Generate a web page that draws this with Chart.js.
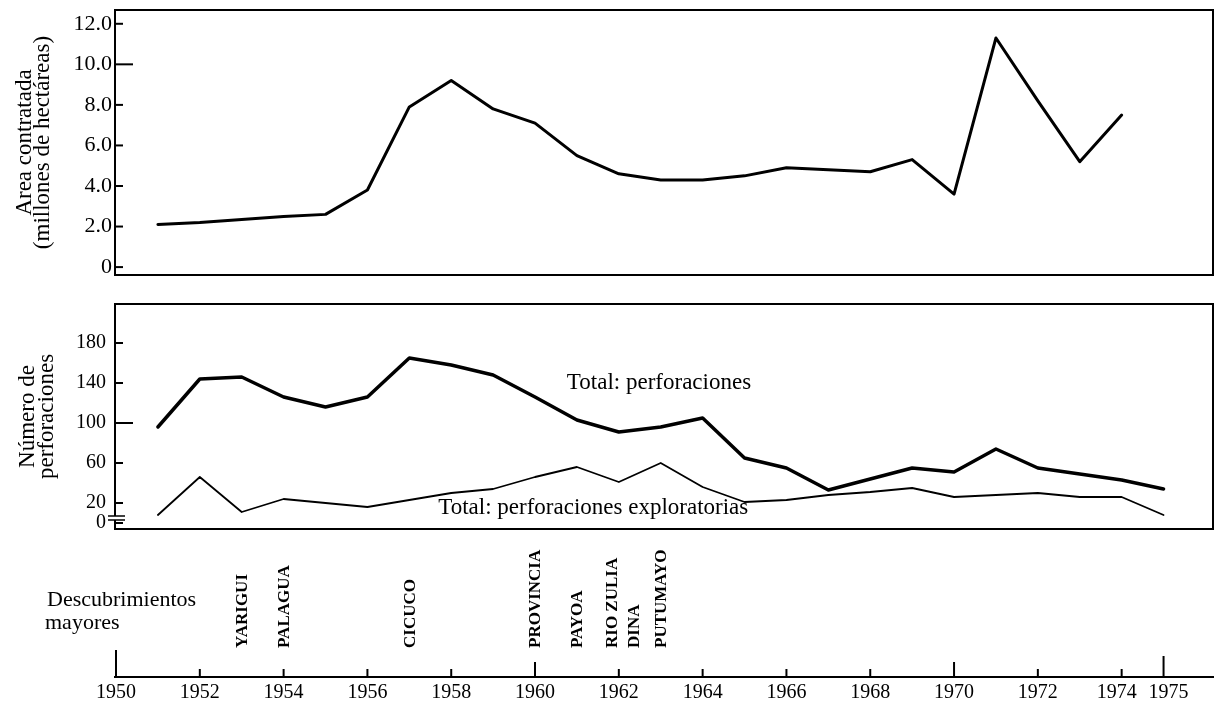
<!DOCTYPE html>
<html>
<head>
<meta charset="utf-8">
<script src="https://cdn.jsdelivr.net/npm/chart.js@4"></script>
<style>
	body { margin: 0; background: #fff; }
	canvas { position: absolute; left: 0; }
</style>
</head>
<body>
<canvas id="areaChart" width="1214" height="285" style="top:0"></canvas>
<canvas id="wellsChart" width="1214" height="245" style="top:290px"></canvas>
<canvas id="discoveryChart" width="1214" height="174" style="top:530px"></canvas>
<script>
const areaYears = [1951, 1952, 1953, 1954, 1955, 1956, 1957, 1958, 1959, 1960, 1961, 1962,
	1963, 1964, 1965, 1966, 1967, 1968, 1969, 1970, 1971, 1972, 1973, 1974]
const areaValues = [2.1, 2.2, 2.35, 2.5, 2.6, 3.8, 7.9, 9.2, 7.8, 7.1, 5.5, 4.6,
	4.3, 4.3, 4.5, 4.9, 4.8, 4.7, 5.3, 3.6, 11.3, 8.2, 5.2, 7.5]

const wellYears = [1951, 1952, 1953, 1954, 1955, 1956, 1957, 1958, 1959, 1960, 1961, 1962,
	1963, 1964, 1965, 1966, 1967, 1968, 1969, 1970, 1971, 1972, 1973, 1974, 1975]
const totalWells = [96, 144, 146, 126, 116, 126, 165, 158, 148, 126, 103, 91,
	96, 105, 65, 55, 33, 44, 55, 51, 74, 55, 49, 43, 34]
const exploratoryWells = [8, 46, 11, 24, 20, 16, 23, 30, 34, 46, 56, 41,
	60, 36, 21, 23, 28, 31, 35, 26, 28, 30, 26, 26, 8]

const areaTicks = [0, 2, 4, 6, 8, 10, 12]
const wellTicks = [0, 20, 60, 100, 140, 180]
const yearTicks = [1950, 1952, 1954, 1956, 1958, 1960, 1962, 1964, 1966, 1968, 1970, 1972, 1974, 1975]

const discoveryNames = ['YARIGUI', 'PALAGUA', 'CICUCO', 'PROVINCIA', 'PAYOA', 'RIO ZULIA', 'DINA', 'PUTUMAYO']
const discoveryYears = [1953, 1954, 1957, 1960, 1961, 1962, 1962, 1963]

const serif = 'Liberation Serif, Times New Roman, serif'
const xRange = { type: 'linear', min: 1949.976, max: 1976.18 }

const toPoints = (xs, ys) => xs.map((x, i) => ({ x: x, y: ys[i] }))

// box around the panel plus the small inward ticks on the left side
const panelFrame = {
	id: 'panelFrame',
	afterDatasetsDraw(chart, args, opts) {
		const { ctx, chartArea: a } = chart
		const y = chart.scales.y
		ctx.save()
		ctx.strokeStyle = '#000'
		ctx.lineWidth = 2
		ctx.strokeRect(a.left, a.top, a.right - a.left, a.bottom - a.top)
		y.ticks.forEach(t => {
			const py = y.getPixelForValue(t.value)
			const len = t.value === opts.longTick ? 18 : 8
			ctx.beginPath()
			ctx.moveTo(a.left, py)
			ctx.lineTo(a.left + len, py)
			ctx.stroke()
		})
		if (opts.axisBreak) {
			const y0 = y.getPixelForValue(0)
			ctx.fillStyle = '#fff'
			ctx.fillRect(a.left - 2, y0 - 7, 4, 4)
			ctx.lineWidth = 1.5
			;[y0 - 7, y0 - 3].forEach(py => {
				ctx.beginPath()
				ctx.moveTo(a.left - 7, py)
				ctx.lineTo(a.left + 10, py)
				ctx.stroke()
			})
		}
		ctx.font = '23px ' + serif
		ctx.fillStyle = '#000'
		ctx.textBaseline = 'middle'
		;(opts.notes || []).forEach(n => {
			ctx.fillText(n.text, chart.scales.x.getPixelForValue(n.x), y.getPixelForValue(n.y))
		})
		ctx.restore()
	},
}

const yAxis = (ticks, min, max, title, lineHeight, titlePad, tickPad, tickSize) => ({
	min: min,
	max: max,
	afterBuildTicks: s => { s.ticks = ticks.map(v => ({ value: v })) },
	afterFit: s => { s.width = 115; s.paddingTop = 0; s.paddingBottom = 0 },
	grid: { display: false, drawTicks: false },
	border: { display: false },
	ticks: { padding: tickPad, color: '#000', font: { family: serif, size: tickSize } },
	title: {
		display: true,
		text: title,
		color: '#000',
		font: { family: serif, size: 23, lineHeight: lineHeight },
		padding: { top: titlePad, bottom: 0 },
	},
})

const baseOptions = {
	responsive: false,
	animation: false,
	plugins: { legend: { display: false }, tooltip: { enabled: false } },
	elements: {
		point: { radius: 0 },
		line: { tension: 0, borderJoinStyle: 'round', borderCapStyle: 'round' },
	},
}

const areaY = yAxis(areaTicks, -0.39, 12.68, ['Area contratada', '(millones de hectáreas)'], '18px', 16, 3, 22)
areaY.ticks.callback = v => (v === 0 ? '0' : v.toFixed(1))

new Chart(document.getElementById('areaChart'), {
	type: 'line',
	data: {
		datasets: [
			{ data: toPoints(areaYears, areaValues), borderColor: '#000', borderWidth: 3, fill: false },
		],
	},
	options: {
		...baseOptions,
		layout: { padding: { top: 10, right: 1, bottom: 10, left: 0 } },
		plugins: { ...baseOptions.plugins, panelFrame: { longTick: 10 } },
		scales: { x: { ...xRange, display: false }, y: areaY },
	},
	plugins: [panelFrame],
})

new Chart(document.getElementById('wellsChart'), {
	type: 'line',
	data: {
		datasets: [
			{ data: toPoints(wellYears, totalWells), borderColor: '#000', borderWidth: 3.5, fill: false },
			{ data: toPoints(wellYears, exploratoryWells), borderColor: '#000', borderWidth: 1.8, fill: false },
		],
	},
	options: {
		...baseOptions,
		layout: { padding: { top: 14, right: 1, bottom: 6, left: 0 } },
		plugins: {
			...baseOptions.plugins,
			panelFrame: {
				longTick: 100,
				axisBreak: true,
				notes: [
					{ text: 'Total: perforaciones', x: 1960.76, y: 140 },
					{ text: 'Total: perforaciones exploratorias', x: 1957.69, y: 15 },
				],
			},
		},
		scales: {
			x: { ...xRange, display: false },
			y: yAxis(wellTicks, -6, 219, ['Número de', 'perforaciones'], '19px', 18.5, 9, 20),
		},
	},
	plugins: [panelFrame],
})

// discovery names above the year axis, ticks pointing up
const discoveryAxis = {
	id: 'discoveryAxis',
	afterDraw(chart) {
		const { ctx, chartArea: a } = chart
		const x = chart.scales.x
		ctx.save()
		ctx.fillStyle = '#000'
		ctx.strokeStyle = '#000'
		ctx.font = '22px ' + serif
		ctx.textBaseline = 'middle'
		ctx.fillText('Descubrimientos', 47, 70)
		ctx.fillText('mayores', 45, 93)

		const tall = { 1950: 27, 1960: 15, 1970: 15, 1975: 21 }
		ctx.lineWidth = 2
		yearTicks.forEach(yr => {
			const px = x.getPixelForValue(yr)
			ctx.beginPath()
			ctx.moveTo(px, a.bottom)
			ctx.lineTo(px, a.bottom - (tall[yr] || 8))
			ctx.stroke()
		})

		ctx.font = 'bold 17px ' + serif
		ctx.textAlign = 'left'
		discoveryNames.forEach((name, i) => {
			const same = discoveryYears.filter(v => v === discoveryYears[i])
			const k = discoveryYears.slice(0, i).filter(v => v === discoveryYears[i]).length
			const shift = same.length > 1 ? (k - (same.length - 1) / 2) * 22 + 4 : 0
			ctx.save()
			ctx.translate(x.getPixelForValue(discoveryYears[i]) + shift, a.bottom - 29)
			ctx.rotate(-Math.PI / 2)
			ctx.fillText(name, 0, 1)
			ctx.restore()
		})
		ctx.restore()
	},
}

new Chart(document.getElementById('discoveryChart'), {
	type: 'line',
	data: { datasets: [{ data: [] }] },
	options: {
		...baseOptions,
		layout: { padding: { top: 0, right: 1, bottom: 0, left: 115 } },
		scales: {
			x: {
				...xRange,
				position: 'bottom',
				afterBuildTicks: s => { s.ticks = yearTicks.map(v => ({ value: v })) },
				afterFit: s => { s.height = 27; s.paddingLeft = 0; s.paddingRight = 0 },
				grid: { display: false, drawTicks: false },
				border: { display: true, color: '#000', width: 2 },
				ticks: {
					padding: 4,
					autoSkip: false,
					maxRotation: 0,
					color: '#000',
					font: { family: serif, size: 20 },
					// the last two years sit close together, nudge them apart a little
					callback: v => (v === 1974 ? '1974  ' : v === 1975 ? '  1975' : String(v)),
				},
			},
			y: { display: false, min: 0, max: 1 },
		},
	},
	plugins: [discoveryAxis],
})
</script>
</body>
</html>
